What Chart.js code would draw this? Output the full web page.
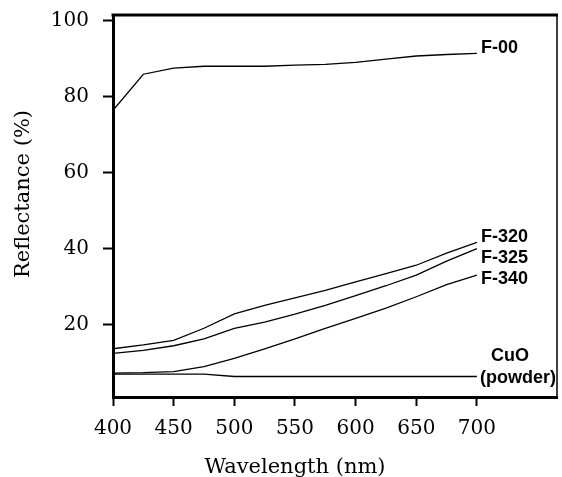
<!DOCTYPE html>
<html>
<head>
<meta charset="utf-8">
<script src="https://cdn.jsdelivr.net/npm/chart.js@4.4.1/dist/chart.umd.min.js"></script>
<style>
  html, body { margin: 0; padding: 0; background: #fff; }
  #wrap { width: 562px; height: 477px; }
</style>
</head>
<body>
<div id="wrap"><canvas id="my-chart" width="562" height="477"></canvas></div>
<script>
// wavelength grid (nm) and reflectance (%)
var wavelengths = [400, 425, 450, 475, 500, 525, 550, 575, 600, 625, 650, 675, 700];
var f00  = [76.4, 85.9, 87.5, 88.0, 88.0, 88.0, 88.3, 88.5, 89.0, 89.9, 90.7, 91.1, 91.4];
var f320 = [13.6, 14.6, 15.8, 19.0, 22.8, 25.0, 27.0, 29.0, 31.2, 33.4, 35.6, 38.8, 41.6];
var f325 = [12.4, 13.2, 14.4, 16.2, 19.0, 20.6, 22.7, 25.0, 27.6, 30.2, 33.0, 36.7, 40.0];
var f340 = [7.2, 7.3, 7.6, 8.9, 11.1, 13.6, 16.2, 19.0, 21.6, 24.3, 27.3, 30.5, 33.0];
var cuo  = [6.9, 6.9, 6.9, 6.9, 6.3, 6.3, 6.3, 6.3, 6.3, 6.3, 6.3, 6.3, 6.3];

var seriesNames = ['F-00', 'F-320', 'F-325', 'F-340', 'CuO (powder)'];
var seriesValues = [f00, f320, f325, f340, cuo];

var xTicks = [400, 450, 500, 550, 600, 650, 700];
var yTicks = [20, 40, 60, 80, 100];

var serif = '"DejaVu Serif", serif';
var sans = '"Liberation Sans", Arial, sans-serif';

// where the end labels sit relative to the last point of each line
var labelNudge = {
  'F-00': [[4, -5, 'F-00']],
  'F-320': [[4, -5, 'F-320']],
  'F-325': [[4, 10, 'F-325']],
  'F-340': [[4, 4, 'F-340']],
  'CuO (powder)': [[14, -20, 'CuO'], [3, 2, '(powder)']]
};

var endLabels = {
  id: 'endLabels',
  afterDatasetsDraw: function(chart) {
    var ctx = chart.ctx;
    ctx.save();
    ctx.fillStyle = '#000';
    ctx.font = 'bold 18px ' + sans;
    ctx.textBaseline = 'middle';
    ctx.textAlign = 'left';
    chart.data.datasets.forEach(function(ds, i) {
      var pts = chart.getDatasetMeta(i).data;
      var last = pts[pts.length - 1];
      (labelNudge[ds.label] || []).forEach(function(n) {
        ctx.fillText(n[2], last.x + n[0], last.y + n[1]);
      });
    });
    ctx.restore();
  }
};

var frame = {
  id: 'frame',
  afterDraw: function(chart) {
    var a = chart.chartArea, ctx = chart.ctx;
    ctx.save();
    ctx.strokeStyle = '#000';
    ctx.lineWidth = 3;
    ctx.beginPath();
    ctx.moveTo(a.left - 1.5, a.top);
    ctx.lineTo(a.right + 1, a.top);
    ctx.stroke();
    ctx.lineWidth = 1.5;
    ctx.beginPath();
    ctx.moveTo(a.right, a.top);
    ctx.lineTo(a.right, a.bottom);
    ctx.stroke();

    // axis titles
    ctx.fillStyle = '#000';
    ctx.font = '21px ' + serif;
    ctx.textAlign = 'center';
    ctx.textBaseline = 'alphabetic';
    ctx.fillText('Wavelength (nm)', chart.scales.x.getPixelForValue(550), 473);
    ctx.translate(29, 194);
    ctx.rotate(-Math.PI / 2);
    ctx.fillText('Reflectance (%)', 0, 0);
    ctx.restore();
  }
};

var chart1 = document.getElementById('my-chart').getContext('2d');

var myChart = new Chart(chart1, {
  type: 'line',
  data: {
    datasets: seriesNames.map(function(name, i) {
      return {
        label: name,
        data: wavelengths.map(function(w, j) { return { x: w, y: seriesValues[i][j] }; }),
        borderColor: '#000',
        borderWidth: 1.3,
        pointRadius: 0,
        tension: 0,
        fill: false
      };
    })
  },
  options: {
    responsive: false,
    animation: false,
    layout: { padding: { top: 15, right: 5, left: 0, bottom: 0 } },
    plugins: {
      legend: { display: false },
      tooltip: { enabled: false }
    },
    scales: {
      x: {
        type: 'linear',
        min: 400,
        max: 766,
        afterBuildTicks: function(s) { s.ticks = xTicks.map(function(v) { return { value: v }; }); },
        afterFit: function(s) { s.height = 80; s.paddingLeft = 0; s.paddingRight = 0; },
        border: { display: true, color: '#000', width: 3 },
        grid: { drawOnChartArea: false, drawTicks: true, tickLength: 9, tickWidth: 2, color: '#000' },
        ticks: {
          color: '#000',
          padding: 11,
          maxRotation: 0,
          autoSkip: false,
          font: { family: serif, size: 20 }
        }
      },
      y: {
        min: 0.9,
        max: 101.5,
        afterBuildTicks: function(s) { s.ticks = yTicks.map(function(v) { return { value: v }; }); },
        afterFit: function(s) { s.width = 113; s.paddingTop = 0; s.paddingBottom = 0; },
        border: { display: true, color: '#000', width: 3 },
        grid: { drawOnChartArea: false, drawTicks: true, tickLength: 10, tickWidth: 2, color: '#000' },
        ticks: {
          color: '#000',
          padding: 14,
          font: { family: serif, size: 20 }
        }
      }
    }
  },
  plugins: [endLabels, frame]
});
</script>
</body>
</html>
